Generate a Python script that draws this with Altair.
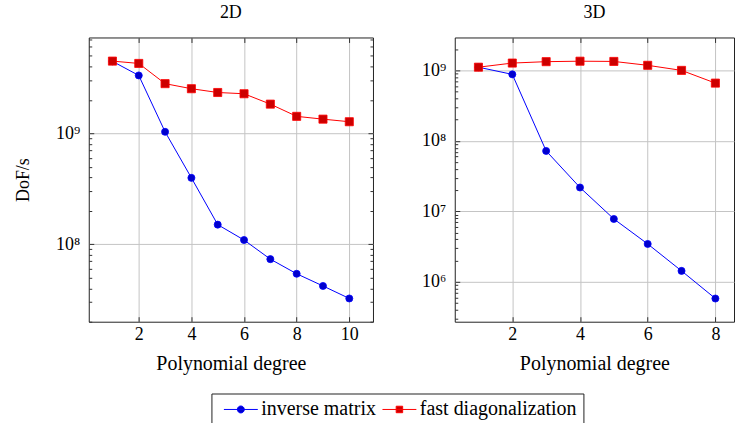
import altair as alt
import pandas as pd

# ---------------- data ----------------
series_names = ["inverse matrix", "fast diagonalization"]

deg_2d = [1, 2, 3, 4, 5, 6, 7, 8, 9, 10]
inv_2d = [4.45e9, 3.32e9, 1.03e9, 3.96e8, 1.50e8, 1.09e8, 7.33e7, 5.41e7, 4.20e7, 3.24e7]
fast_2d = [4.47e9, 4.26e9, 2.80e9, 2.52e9, 2.33e9, 2.27e9, 1.83e9, 1.42e9, 1.34e9, 1.27e9]

deg_3d = [1, 2, 3, 4, 5, 6, 7, 8]
inv_3d = [1.11e9, 8.78e8, 7.2e7, 2.18e7, 7.8e6, 3.45e6, 1.43e6, 5.8e5]
fast_3d = [1.11e9, 1.27e9, 1.33e9, 1.35e9, 1.34e9, 1.18e9, 1.0e9, 6.6e8]

x_ticks_2d = [2, 4, 6, 8, 10]
x_ticks_3d = [2, 4, 6, 8]
y_major_2d = [1e8, 1e9]
y_major_3d = [1e6, 1e7, 1e8, 1e9]

# ---------------- style ----------------
FONT = "Liberation Serif"
FS = 18          # digits / titles
FS_WORD = 20     # lowercase words (wider in the original font)
BLUE, BLUE_FILL = "#0000ff", "#0000cc"
RED, RED_FILL = "#ff0000", "#cc0000"
GRID = "#c4c4c4"
TICK = "#333333"
TK, TM = 5, 3
H = 285

SUP = "['\u2070','\u00b9','\u00b2','\u00b3','\u2074','\u2075','\u2076','\u2077','\u2078','\u2079']"
LABEL_EXPR = "'10' + " + SUP + "[round(log(datum.value)/LN10)]"


def minors(lo, hi):
    return [m * 10 ** e for e in range(4, 11) for m in range(2, 10) if lo <= m * 10 ** e <= hi]


def panel(deg, inv, fast, xdom, ydom, xticks, ymajor, width, title, ytitle, right_ticks, legend_layer=None):
    df = pd.DataFrame({
        "degree": deg + deg,
        "value": inv + fast,
        "series": [series_names[0]] * len(deg) + [series_names[1]] * len(deg),
    })
    base = alt.Chart(df)
    xs = alt.Scale(domain=xdom, nice=False, zero=False)
    ys = alt.Scale(type="log", domain=ydom, nice=False)
    minor = minors(ydom[0], ydom[1])

    def enc(xaxis=None, yaxis=None):
        return dict(
            x=alt.X("degree:Q", scale=xs, axis=xaxis),
            y=alt.Y("value:Q", scale=ys, axis=yaxis),
        )

    ghost = base.mark_point(opacity=0)
    layers = []
    # grid
    layers.append(ghost.encode(**enc(
        alt.Axis(values=xticks, orient="bottom", grid=True, gridColor=GRID, gridWidth=1,
                 labels=False, ticks=False, domain=False, title=None),
        alt.Axis(values=ymajor, orient="left", grid=True, gridColor=GRID, gridWidth=1,
                 labels=False, ticks=False, domain=False, title=None))))
    # data
    inv_f = base.transform_filter(alt.datum.series == series_names[0])
    fast_f = base.transform_filter(alt.datum.series == series_names[1])
    layers.append(inv_f.mark_line(color=BLUE, strokeWidth=1).encode(**enc()))
    layers.append(inv_f.mark_point(shape="circle", filled=True, fill=BLUE_FILL, stroke=BLUE,
                                   strokeWidth=0.8, size=50, opacity=1).encode(**enc()))
    layers.append(fast_f.mark_line(color=RED, strokeWidth=1).encode(**enc()))
    layers.append(fast_f.mark_point(shape="square", filled=True, fill=RED_FILL, stroke=RED,
                                    strokeWidth=0.8, size=66, opacity=1).encode(**enc()))
    # main axes (bottom + left) with inward ticks
    layers.append(ghost.encode(**enc(
        alt.Axis(values=xticks, orient="bottom", offset=-TK, tickSize=TK, tickColor=TICK,
                 grid=False, domain=False, labelPadding=4, format="d",
                 title="Polynomial degree", titlePadding=10, titleFontSize=FS_WORD),
        alt.Axis(values=ymajor, orient="left", offset=-TK, tickSize=TK, tickColor=TICK,
                 grid=False, domain=False, labelPadding=9, labelExpr=LABEL_EXPR,
                 title=ytitle, titlePadding=23))))
    # top ticks + left minor ticks
    layers.append(ghost.encode(**enc(
        alt.Axis(values=xticks, orient="top", offset=-TK, tickSize=TK, tickColor=TICK,
                 grid=False, domain=False, labels=False, title=None),
        alt.Axis(values=minor, orient="left", offset=-TM, tickSize=TM, tickColor=TICK,
                 grid=False, domain=False, labels=False, title=None))))
    if right_ticks:
        layers.append(ghost.encode(**enc(None,
            alt.Axis(values=ymajor, orient="right", offset=-TK, tickSize=TK, tickColor=TICK,
                     grid=False, domain=False, labels=False, title=None))))
        layers.append(ghost.encode(**enc(None,
            alt.Axis(values=minor, orient="right", offset=-TM, tickSize=TM, tickColor=TICK,
                     grid=False, domain=False, labels=False, title=None))))
    if legend_layer is not None:
        layers.append(legend_layer)
    return alt.layer(*layers).resolve_axis(x="independent", y="independent").properties(
        width=width, height=H,
        title=alt.TitleParams(title, font=FONT, fontSize=FS, fontWeight="normal", color="black", offset=15),
    )


# legend (native Vega legend with custom line+marker symbols)
PATH_CIRCLE = "M-1,0H8.714M2.857,0A1,1,0,1,0,4.857,0A1,1,0,1,0,2.857,0Z"
PATH_SQUARE = "M-1,0H8.714M2.93,-0.93H4.79V0.93H2.93Z"
leg = alt.Legend(orient="none", legendX=123, legendY=357, direction="horizontal", title=None,
                 strokeColor="#222222", padding=6, cornerRadius=0, fillColor="white",
                 symbolSize=49, symbolStrokeWidth=1, labelOffset=24, columnPadding=0,
                 labelFont=FONT, labelFontSize=FS_WORD, labelColor="black", symbolOpacity=1)
legend_layer = alt.Chart(pd.DataFrame({"series": series_names})).transform_filter("false").mark_point(
    filled=True).encode(
    fill=alt.Fill("series:N", scale=alt.Scale(domain=series_names, range=[BLUE_FILL, RED_FILL]), legend=leg),
    stroke=alt.Stroke("series:N", scale=alt.Scale(domain=series_names, range=[BLUE, RED]), legend=leg),
    shape=alt.Shape("series:N", scale=alt.Scale(domain=series_names, range=[PATH_CIRCLE, PATH_SQUARE]), legend=leg),
)

left = panel(deg_2d, inv_2d, fast_2d, [0.1, 10.9], [2.0e7, 7.3e9], x_ticks_2d, y_major_2d,
             285, "2D", "DoF/s", True, legend_layer)
right = panel(deg_3d, inv_3d, fast_3d, [0.3, 8.55], [2.72e5, 2.93e9], x_ticks_3d, y_major_3d,
              280, "3D", None, False)

chart = alt.hconcat(left, right, spacing=82, bounds="flush").properties(
    padding={"left": 14, "top": 3, "right": 0, "bottom": 0}
).configure(background="white").configure_view(stroke="#222222", strokeWidth=1).configure_axis(
    labelFont=FONT, labelFontSize=FS, labelColor="black",
    titleFont=FONT, titleFontSize=FS, titleFontWeight="normal", titleColor="black",
)

chart.save("out.html", embed_options={"renderer": "svg", "actions": False})
